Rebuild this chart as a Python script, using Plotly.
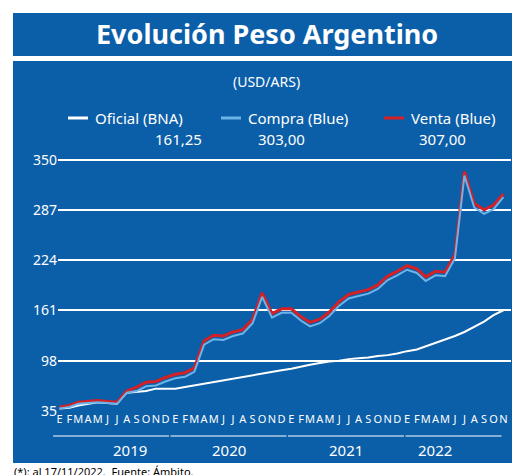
import plotly.graph_objects as go

months = [f"{y}-{m:02d}-01" for y in range(2019, 2023) for m in range(1, 13)][:47]
oficial = [38, 39, 42, 44, 46, 45, 44, 58, 59, 60, 63, 63,
           63, 65, 67, 70, 72, 74, 76, 78, 80, 82, 84, 86,
           88, 91, 93, 95, 97, 98, 100, 101, 102, 104, 105, 107,
           110, 112, 116, 120, 124, 129, 134, 140, 147, 155, 161.25]
compra = [38, 40, 44, 45, 46, 45, 44, 58, 60, 66, 67, 72,
          76, 78, 84, 118, 125, 124, 129, 132, 145, 178, 152, 158,
          158, 148, 141, 145, 154, 167, 176, 179, 182, 188, 199, 205,
          212, 208, 198, 205, 204, 226, 330, 290, 282, 288, 303]
venta = [c + (2 if i < 8 else 5) for i, c in enumerate(compra)]
venta[-1] = 307
month_letters = list("EFMAMJJASOND") * 3 + list("EFMAMJJASON")
years = ["2019", "2020", "2021", "2022"]
yticks = [35, 98, 161, 224, 287, 350]

BLUE = "#0b5ea8"
W, H = 520, 475
L, R, T, B = 50, 17, 150, 72
PH, PW = H - T - B, W - L - R
def py(p): return (H - B - p) / PH
def px(p): return (p - L) / PW

fig = go.Figure()
fig.add_trace(go.Scatter(x=months, y=oficial, mode="lines", line=dict(color="white", width=2)))
fig.add_trace(go.Scatter(x=months, y=venta, mode="lines", line=dict(color="#d42027", width=3)))
fig.add_trace(go.Scatter(x=months, y=compra, mode="lines", line=dict(color="#6cb4e8", width=2)))

shapes = [
    dict(type="rect", xref="paper", yref="paper", x0=px(5), x1=px(513), y0=py(48), y1=py(5), fillcolor=BLUE, line_width=0, layer="below"),
    dict(type="rect", xref="paper", yref="paper", x0=px(5), x1=px(513), y0=py(455), y1=py(53), fillcolor=BLUE, line_width=0, layer="below"),
]
anns = [
    dict(text="<b>Evolución Peso Argentino</b>", x=0.5 * (px(5) + px(513)), y=py(26), font=dict(size=27, color="white")),
    dict(text="(USD/ARS)", x=px(258), y=py(73), font=dict(size=14, color="white")),
    dict(text="(*): al 17/11/2022.  Fuente: Ámbito.", x=px(4), y=py(463), xanchor="left", yanchor="middle", font=dict(size=11, color="black")),
]
leg = [("Oficial (BNA)", "161,25", "white", 60, 145), ("Compra (Blue)", "303,00", "#6cb4e8", 213, 273), ("Venta (Blue)", "307,00", "#d42027", 376, 460)]
for name, val, col, x0, xc in leg:
    shapes.append(dict(type="line", xref="paper", yref="paper", x0=px(x0), x1=px(x0 + 20), y0=py(110), y1=py(110), line=dict(color=col, width=3)))
    anns.append(dict(text=name, x=px(x0 + 25), y=py(110), xanchor="left", font=dict(size=15, color="white")))
    anns.append(dict(text=val, x=px(xc), y=py(131), font=dict(size=15, color="white")))
for i, yr in enumerate(years):
    x0 = 45 + i * 117.5
    x1 = x0 + (116 if i < 3 else 96)
    shapes.append(dict(type="line", xref="paper", yref="paper", x0=px(x0), x1=px(x1), y0=py(428), y1=py(428), line=dict(color="white", width=1)))
    anns.append(dict(text=yr, x=px((x0 + x1) / 2), y=py(442), font=dict(size=15, color="white")))
for a in anns:
    a.update(xref="paper", yref="paper", showarrow=False)
    a.setdefault("yanchor", "middle")
    a.setdefault("font", {})["family"] = "Noto Sans"

fig.update_layout(
    width=W, height=H, margin=dict(l=L, r=R, t=T, b=B),
    paper_bgcolor="white", plot_bgcolor=BLUE, showlegend=False,
    shapes=shapes, annotations=anns, font=dict(family="Noto Sans", color="white"),
    xaxis=dict(range=["2018-12-27", "2022-11-25"], tickvals=months, ticktext=month_letters, tickangle=0,
               tickfont=dict(size=11, color="white", family="Liberation Sans Narrow, Noto Sans"),
               showgrid=False, zeroline=False, ticks="", showline=False),
    yaxis=dict(range=[35, 352], tickvals=yticks, tickfont=dict(size=14, color="white"),
               gridcolor="white", gridwidth=1.5, zeroline=False, ticks=""),
)
fig.write_html("out.html")
